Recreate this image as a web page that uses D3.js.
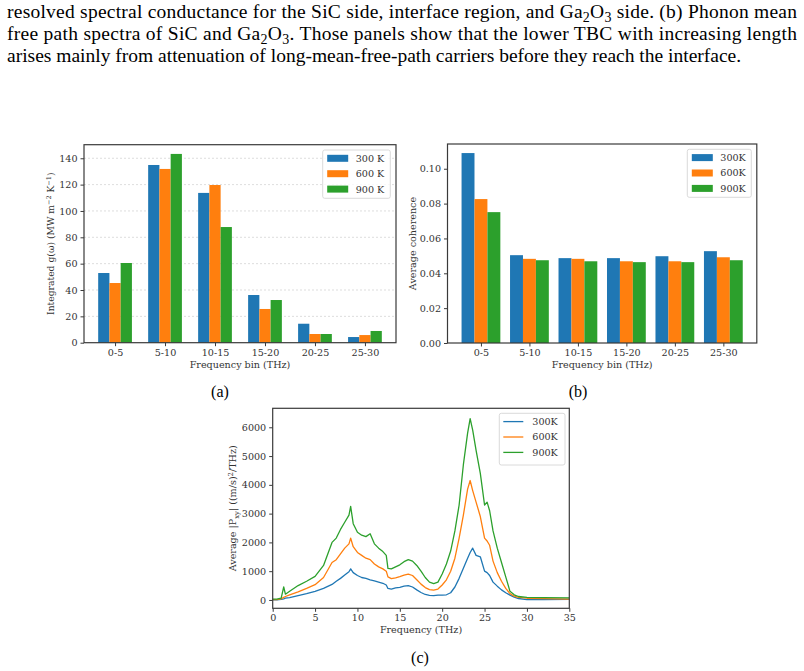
<!DOCTYPE html>
<html>
<head>
<meta charset="utf-8">
<script src="https://cdn.jsdelivr.net/npm/d3@7"></script>
<style>
  body { margin: 0; background: #fff; }
  svg text { font-family: "DejaVu Serif", serif; fill: #333; }
  svg text.para { font-family: "Liberation Serif", "Times New Roman", serif; fill: #000; }
</style>
</head>
<body>
<svg id="fig" width="804" height="671"></svg>
<script>
// ---- data ----
const bins = ["0-5", "5-10", "10-15", "15-20", "20-25", "25-30"];
const temps = ["300", "600", "900"];
const colors = ["#1f77b4", "#ff7f0e", "#2ca02c"];

// (a) integrated spectral conductance, MW m^-2 K^-1
const tbc300 = [52.9, 134.9, 113.7, 36.2, 14.4, 4.3];
const tbc600 = [45.3, 131.9, 119.7, 25.6, 6.6, 5.8];
const tbc900 = [60.5, 143.3, 87.8, 32.4, 6.6, 8.9];

// (b) average coherence
const coh300 = [0.109, 0.0504, 0.0487, 0.0487, 0.0498, 0.0527];
const coh600 = [0.0826, 0.0483, 0.0483, 0.0469, 0.0469, 0.0492];
const coh900 = [0.0751, 0.0475, 0.0469, 0.0464, 0.0464, 0.0475];

// (c) average |Pxy| vs frequency
const freq = [0, 0.5, 1, 1.3, 1.5, 2, 3, 4, 5, 6, 7, 7.5, 8, 8.5, 9, 9.2, 9.5, 10, 10.5, 11, 11.5, 12, 12.5, 13, 13.4, 13.6,
  14, 14.5, 15, 15.5, 16, 16.5, 17, 17.5, 18, 18.5, 19, 19.5, 20, 20.5, 21, 21.5, 22, 22.5, 23, 23.3, 23.6, 24, 24.5,
  25, 25.3, 25.6, 26, 26.5, 27, 27.5, 28, 28.5, 29, 30, 32, 35];
const pxy300 = [5, 5, 20, 40, 60, 80, 150, 220, 300, 400, 540, 650, 750, 870, 980, 1080, 950, 850, 780, 750, 700, 660, 620, 580, 520, 400,
  380, 420, 440, 480, 500, 450, 350, 260, 190, 160, 150, 170, 170, 180, 250, 450, 750, 1100, 1450, 1650, 1800, 1550, 1500,
  1000, 950, 850, 620, 480, 350, 250, 170, 100, 50, 15, 15, 20];
const pxy600 = [10, 10, 40, 90, 120, 180, 280, 400, 530, 780, 1300, 1400, 1600, 1800, 1950, 2150, 1850, 1650, 1550, 1450, 1400, 1250, 1150, 1080, 1000, 800,
  740, 770, 810, 860, 900, 850, 700, 550, 430, 360, 340, 380, 520, 700, 1000, 1450, 2150, 2950, 3850, 4150, 3800, 3400, 2900,
  2150, 2050, 1900, 1350, 950, 650, 400, 220, 130, 90, 60, 45, 30];
const pxy900 = [30, 30, 60, 450, 200, 300, 500, 650, 820, 1200, 2000, 2150, 2450, 2700, 2950, 3250, 2650, 2350, 2250, 2200, 2300, 1950, 1800, 1680, 1550, 1100,
  1080, 1150, 1220, 1330, 1400, 1350, 1200, 1000, 780, 620, 570, 620, 900, 1250, 1700, 2400, 3300, 4700, 5800, 6300, 5900, 5200, 4400,
  3300, 3400, 3100, 2400, 1800, 1300, 800, 300, 180, 120, 90, 80, 70];

const yTicksA = [0, 20, 40, 60, 80, 100, 120, 140];
const yTicksB = [0, 0.02, 0.04, 0.06, 0.08, 0.10];
const xTicksC = [0, 5, 10, 15, 20, 25, 30, 35];
const yTicksC = [0, 1000, 2000, 3000, 4000, 5000, 6000];

const svg = d3.select("#fig");
svg.append("rect").attr("width", 804).attr("height", 671).attr("fill", "#fff");

// ---- paragraph text above the figure ----
const para = [
  { y: 18, len: 790, parts: ["resolved spectral conductance for the SiC side, interface region, and Ga", ["2"], "O", ["3"], " side. (b) Phonon mean"] },
  { y: 40, len: 790, parts: ["free path spectra of SiC and Ga", ["2"], "O", ["3"], ". Those panels show that the lower TBC with increasing length"] },
  { y: 62, len: null, parts: ["arises mainly from attenuation of long-mean-free-path carriers before they reach the interface."] }
];
para.forEach(p => {
  const t = svg.append("text").attr("class", "para").attr("x", 7).attr("y", p.y).style("font-size", "19.5px");
  if (p.len) t.attr("textLength", p.len).attr("lengthAdjust", "spacing");
  let shift = 0;
  p.parts.forEach(s => {
    if (Array.isArray(s)) {
      t.append("tspan").attr("dy", 4 - shift).style("font-size", "14px").text(s[0]);
      shift = 4;
    } else {
      t.append("tspan").attr("dy", -shift).text(s);
      shift = 0;
    }
  });
});

function frame(g, x0, x1, y0, y1) {
  g.append("rect").attr("x", x0).attr("y", y0).attr("width", x1 - x0).attr("height", y1 - y0)
    .attr("fill", "none").attr("stroke", "#3a3a3a").attr("stroke-width", 1.2);
}

function legend(g, x, y, w, h, labels, kind) {
  g.append("rect").attr("x", x).attr("y", y).attr("width", w).attr("height", h).attr("rx", 2)
    .attr("fill", "#fff").attr("fill-opacity", 0.8).attr("stroke", "#d0d0d0").attr("stroke-width", 0.8);
  labels.forEach((l, i) => {
    const cy = y + 8.3 + i * 15.4;
    if (kind === "patch") {
      g.append("rect").attr("x", x + 4.5).attr("y", cy - 3.5).attr("width", 21).attr("height", 7).attr("fill", colors[i]);
    } else {
      g.append("line").attr("x1", x + 4).attr("x2", x + 24).attr("y1", cy).attr("y2", cy)
        .attr("stroke", colors[i]).attr("stroke-width", 1.3);
    }
    g.append("text").attr("x", x + 33).attr("y", cy + 3.4)
      .style("font-size", "9.6px").text(l);
  });
}

function barPanel(opts) {
  const g = svg.append("g");
  const { x0, x1, y0, y1, w, yMax, yTicks, fmt, series } = opts;
  const ext = 1.5 * w;
  const pad = (5 + 2 * ext) * 0.05;
  const x = d3.scaleLinear().domain([-ext - pad, 5 + ext + pad]).range([x0, x1]);
  const y = d3.scaleLinear().domain([0, yMax]).range([y1, y0]);

  if (opts.grid) {
    g.append("g").selectAll("line").data(yTicks.filter(d => d > 0)).join("line")
      .attr("x1", x0).attr("x2", x1).attr("y1", d => y(d)).attr("y2", d => y(d))
      .attr("stroke", "#d4d4d4").attr("stroke-width", 0.8).attr("stroke-dasharray", "2,2");
  }

  series.forEach((vals, k) => {
    g.append("g").selectAll("rect").data(vals).join("rect")
      .attr("x", (d, i) => x(i + (k - 1) * w - w / 2))
      .attr("width", x(w) - x(0))
      .attr("y", d => y(d))
      .attr("height", d => y(0) - y(d))
      .attr("fill", colors[k]);
  });

  const ya = g.append("g").attr("transform", `translate(${x0},0)`)
    .call(d3.axisLeft(y).tickValues(yTicks).tickFormat(fmt).tickSize(3.5).tickPadding(3));
  const xa = g.append("g").attr("transform", `translate(0,${y1})`)
    .call(d3.axisBottom(x).tickValues(d3.range(6)).tickFormat(i => bins[i]).tickSize(3.5).tickPadding(2.5));
  [ya, xa].forEach(a => {
    a.select(".domain").remove();
    a.selectAll("line").attr("stroke", "#3a3a3a");
    a.selectAll("text").style("font-size", "9.6px").attr("fill", "#333").style("font-family", "DejaVu Serif, serif");
  });
  frame(g, x0, x1, y0, y1);

  g.append("text").attr("x", (x0 + x1) / 2).attr("y", y1 + 25).attr("text-anchor", "middle")
    .style("font-size", "9.6px").text("Frequency bin (THz)");
  return g;
}

// ---- (a) ----
const gA = barPanel({
  x0: 84, x1: 396, y0: 144.7, y1: 342.7, w: 0.225, yMax: 150.3, yTicks: yTicksA,
  fmt: d3.format("d"), series: [tbc300, tbc600, tbc900], grid: true
});
const yla = gA.append("text").attr("transform", "translate(54,243.7) rotate(-90)").attr("text-anchor", "middle")
  .style("font-size", "9.2px");
yla.append("tspan").text("Integrated g(\u03C9) (MW m");
yla.append("tspan").attr("dy", -3.5).style("font-size", "6.5px").text("\u22122");
yla.append("tspan").attr("dy", 3.5).text(" K");
yla.append("tspan").attr("dy", -3.5).style("font-size", "6.5px").text("\u22121");
yla.append("tspan").attr("dy", 3.5).text(")");
legend(gA, 322.7, 150, 67.6, 48.3, temps.map(t => t + " K"), "patch");

// ---- (b) ----
const gB = barPanel({
  x0: 447.5, x1: 756.8, y0: 144, y1: 343, w: 0.8 / 3, yMax: 0.1142, yTicks: yTicksB,
  fmt: d3.format(".2f"), series: [coh300, coh600, coh900], grid: false
});
gB.append("text").attr("transform", "translate(416,243.5) rotate(-90)").attr("text-anchor", "middle")
  .style("font-size", "9.6px").text("Average coherence");
legend(gB, 687.3, 149.3, 64, 48, temps.map(t => t + "K"), "patch");

// ---- (c) ----
const gC = svg.append("g");
const cx0 = 272.7, cx1 = 569.3, cy0 = 408.3, cy1 = 608.3;
const xc = d3.scaleLinear().domain([0, 35]).range([cx0, cx1]);
const yc = d3.scaleLinear().domain([-290, 6660]).range([cy1, cy0]);
const lineGen = vals => d3.line().x((d, i) => xc(freq[i])).y(d => yc(d))(vals);
[pxy300, pxy600, pxy900].forEach((vals, k) => {
  gC.append("path").attr("d", lineGen(vals)).attr("fill", "none")
    .attr("stroke", colors[k]).attr("stroke-width", 1.3).attr("stroke-linejoin", "round");
});
const yac = gC.append("g").attr("transform", `translate(${cx0},0)`)
  .call(d3.axisLeft(yc).tickValues(yTicksC).tickFormat(d3.format("d")).tickSize(3.5).tickPadding(3));
const xac = gC.append("g").attr("transform", `translate(0,${cy1})`)
  .call(d3.axisBottom(xc).tickValues(xTicksC).tickFormat(d3.format("d")).tickSize(3.5).tickPadding(2.5));
[yac, xac].forEach(a => {
  a.select(".domain").remove();
  a.selectAll("line").attr("stroke", "#3a3a3a");
  a.selectAll("text").style("font-size", "9.6px").attr("fill", "#333").style("font-family", "DejaVu Serif, serif");
});
frame(gC, cx0, cx1, cy0, cy1);
gC.append("text").attr("x", (cx0 + cx1) / 2).attr("y", cy1 + 25).attr("text-anchor", "middle")
  .style("font-size", "9.6px").text("Frequency (THz)");
const ylc = gC.append("text").attr("transform", `translate(236,${(cy0 + cy1) / 2}) rotate(-90)`).attr("text-anchor", "middle")
  .style("font-size", "9.6px");
ylc.append("tspan").text("Average |P");
ylc.append("tspan").attr("dy", 2.5).style("font-size", "6.8px").text("xy");
ylc.append("tspan").attr("dy", -2.5).text("| ((m/s)");
ylc.append("tspan").attr("dy", -3.5).style("font-size", "6.8px").text("2");
ylc.append("tspan").attr("dy", 3.5).text("/THz)");
legend(gC, 499.3, 413.3, 65.7, 51.7, temps.map(t => t + "K"), "line");

// ---- sub-figure captions ----
[["(a)", 220, 397], ["(b)", 578, 397], ["(c)", 420, 663]].forEach(([s, x, y]) => {
  svg.append("text").attr("class", "para").attr("x", x).attr("y", y).attr("text-anchor", "middle")
    .style("font-size", "16px").text(s);
});
</script>
</body>
</html>
